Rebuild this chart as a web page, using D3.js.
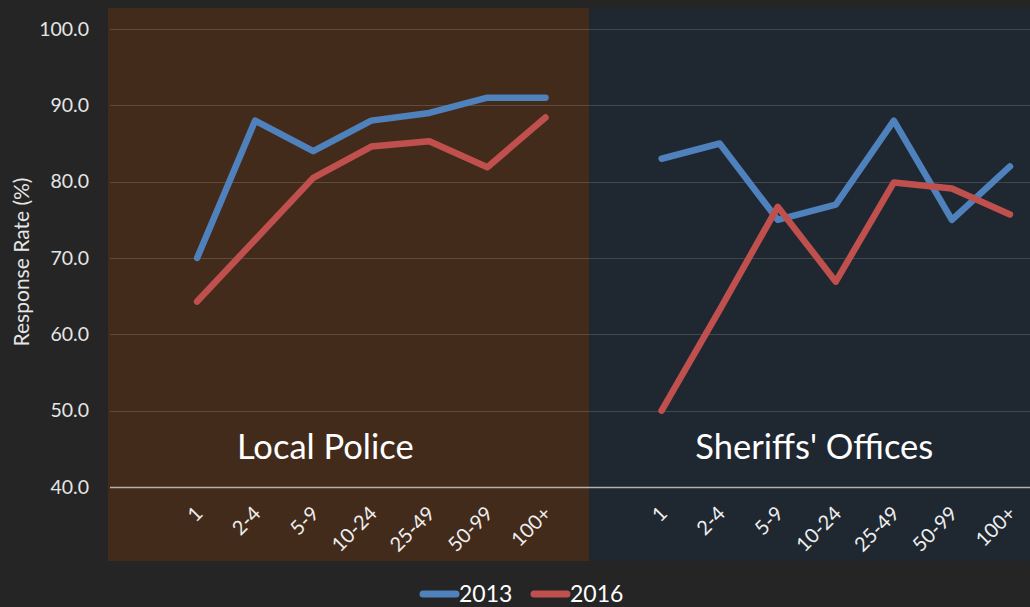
<!DOCTYPE html>
<html>
<head>
<meta charset="utf-8">
<script src="https://cdn.jsdelivr.net/npm/d3@7"></script>
<style>
  body { margin: 0; background: #252525; }
  svg { display: block; font-family: Lato, "Open Sans", sans-serif; }
</style>
</head>
<body>
<div id="chart"></div>
<script>
// categories (agency size)
var sizes = ["1", "2-4", "5-9", "10-24", "25-49", "50-99", "100+"];
var groups = ["Local Police", "Sheriffs' Offices"];
var yTicks = [40, 50, 60, 70, 80, 90, 100];

// response rates
var police2013 = [70.0, 88.0, 84.0, 88.0, 89.0, 91.0, 91.0];
var police2016 = [64.3, 72.4, 80.5, 84.6, 85.3, 81.9, 88.4];
var sheriff2013 = [83.0, 85.0, 75.0, 77.0, 88.0, 75.0, 82.0];
var sheriff2016 = [50.0, 63.2, 76.7, 66.9, 79.9, 79.1, 75.7];

var colors = { "2013": "#4f81bd", "2016": "#c0504d" };

var width = 1030, height = 607;

//Make an SVG Container
var svg = d3.select("#chart").append("svg")
  .attr("width", width)
  .attr("height", height);

// 16 slots: a blank one before each group
var slots = [];
groups.forEach(function (g, gi) {
  slots.push("gap" + gi);
  sizes.forEach(function (s) { slots.push(gi + "|" + s); });
});

var x = d3.scaleBand().domain(slots).range([110, 1039]);
var step = x.step();
var cx = function (gi, s) { return x(gi + "|" + s) + step / 2; };

var y = d3.scaleLinear().domain([40, 100]).range([487, 29]);

// panel backgrounds
var panelLeft = [108, x("gap1") + step * 0.25];
var panelRight = [panelLeft[1], width];
var panelFill = ["#432b1c", "#1f2731"];
[panelLeft, panelRight].forEach(function (p, i) {
  svg.append("rect")
    .attr("x", p[0])
    .attr("y", 8)
    .attr("width", p[1] - p[0])
    .attr("height", 553)
    .style("fill", panelFill[i]);
});

// gridlines
svg.append("g").selectAll("line")
  .data(yTicks)
  .join("line")
  .attr("x1", 110)
  .attr("x2", width)
  .attr("y1", function (d) { return Math.round(y(d)) + 0.5; })
  .attr("y2", function (d) { return Math.round(y(d)) + 0.5; })
  .attr("stroke", function (d) { return d === 40 ? "#c8c0b8" : "#ffffff"; })
  .attr("stroke-opacity", function (d) { return d === 40 ? 0.9 : 0.15; })
  .attr("stroke-width", function (d) { return d === 40 ? 1.5 : 1; });

// y axis
var yAxis = d3.axisLeft(y)
  .tickValues(yTicks)
  .tickFormat(d3.format(".1f"))
  .tickSize(0)
  .tickPadding(0);
var gy = svg.append("g")
  .attr("transform", "translate(89,0)")
  .call(yAxis);
gy.select(".domain").remove();
gy.selectAll("text")
  .attr("fill", "#e6e6e6")
  .attr("font-size", 19.5)
  .attr("font-family", "Lato, 'Open Sans', sans-serif");

svg.append("text")
  .attr("transform", "translate(29,262) rotate(-90)")
  .attr("text-anchor", "middle")
  .attr("fill", "#e6e6e6")
  .attr("font-size", 21)
  .text("Response Rate (%)");

// x tick labels
var labelShift = [-46, -21.5];
groups.forEach(function (g, gi) {
  svg.append("g").selectAll("text")
    .data(sizes)
    .join("text")
    .attr("transform", function (s) {
      return "translate(" + (cx(gi, s) - 3) + ",505) rotate(-45)";
    })
    .attr("text-anchor", "end")
    .attr("dy", "0.7em")
    .attr("fill", "#eeeeee")
    .attr("font-size", 20)
    .text(function (s) { return s; });

  // group labels
  var mid = (cx(gi, sizes[0]) + cx(gi, sizes[sizes.length - 1])) / 2;
  svg.append("text")
    .attr("x", mid + labelShift[gi])
    .attr("y", 459)
    .attr("text-anchor", "middle")
    .attr("fill", "#ffffff")
    .attr("font-size", 34.5)
    .text(g);
});

// lines
var series = [
  { gi: 0, year: "2013", values: police2013 },
  { gi: 0, year: "2016", values: police2016 },
  { gi: 1, year: "2013", values: sheriff2013 },
  { gi: 1, year: "2016", values: sheriff2016 }
];

series.forEach(function (sr) {
  var line = d3.line()
    .x(function (d, i) { return cx(sr.gi, sizes[i]); })
    .y(function (d) { return y(d); });
  svg.append("path")
    .datum(sr.values)
    .attr("d", line)
    .attr("fill", "none")
    .attr("stroke", colors[sr.year])
    .attr("stroke-width", 6.5)
    .attr("stroke-linejoin", "round")
    .attr("stroke-linecap", "round");
});

// legend
var legend = svg.append("g").attr("transform", "translate(420,594)");
var years = ["2013", "2016"];
years.forEach(function (yr, i) {
  var gx = i * 111;
  legend.append("line")
    .attr("x1", gx + 3)
    .attr("x2", gx + 36)
    .attr("y1", 0)
    .attr("y2", 0)
    .attr("stroke", colors[yr])
    .attr("stroke-width", 7)
    .attr("stroke-linecap", "round");
  legend.append("text")
    .attr("x", gx + 39)
    .attr("y", 8)
    .attr("fill", "#ffffff")
    .attr("font-size", 23)
    .text(yr);
});
</script>
</body>
</html>
